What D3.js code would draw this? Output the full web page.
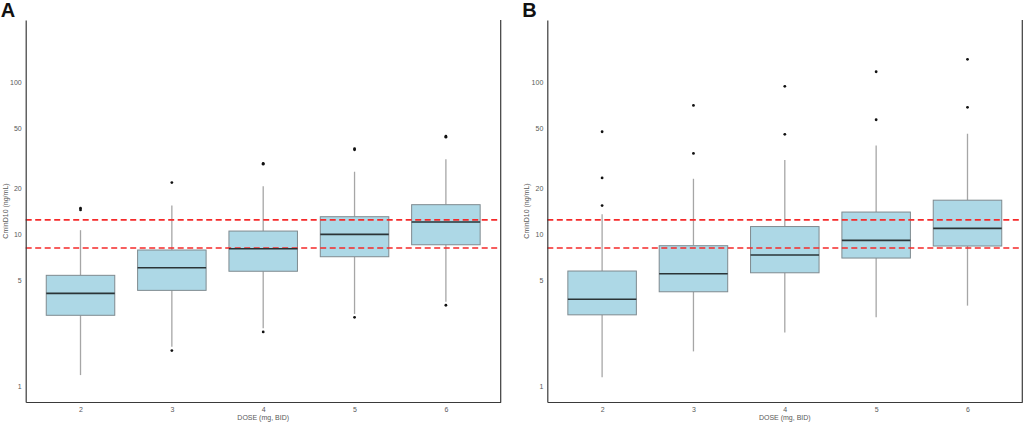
<!DOCTYPE html>
<html>
<head>
<meta charset="utf-8">
<script src="https://cdn.jsdelivr.net/npm/d3@7"></script>
<style>
  body { margin: 0; background: #fff; }
  svg { display: block; font-family: "Liberation Sans", Arial, sans-serif; }
</style>
</head>
<body>
<div id="chart"></div>
<script>
// categories and axis ticks
const doses = ["2", "3", "4", "5", "6"];
const yTicks = [1, 5, 10, 20, 50, 100];
const refLines = [8.1, 12.4];

// panel A box stats (ng/mL)
const aLower  = [1.18, 1.81, 2.40, 2.98, 3.59];
const aQ1     = [2.92, 4.26, 5.69, 7.09, 8.50];
const aMedian = [4.07, 6.00, 8.00, 9.95, 12.0];
const aQ3     = [5.35, 7.85, 10.46, 13.0, 15.6];
const aUpper  = [10.6, 15.4, 20.6, 25.7, 31.0];
const aOutliers = [[14.4, 14.8], [21.8, 1.71], [28.8, 29.2, 2.27], [35.8, 36.4, 2.83], [43.4, 44.0, 3.40]];

// panel B box stats (ng/mL)
const bLower  = [1.14, 1.69, 2.25, 2.83, 3.38];
const bQ1     = [2.94, 4.17, 5.56, 6.95, 8.34];
const bMedian = [3.72, 5.48, 7.28, 9.09, 10.9];
const bQ3     = [5.71, 8.38, 11.2, 13.95, 16.7];
const bUpper  = [13.5, 23.1, 30.7, 38.3, 45.7];
const bOutliers = [[15.4, 23.4, 47.1], [33.9, 70.2], [45.3, 93.7], [56.5, 116.9], [68.2, 141]];

const W = 1024, H = 423;
const svg = d3.select("#chart").append("svg")
  .attr("width", W)
  .attr("height", H);

const plotTop = 20, plotBottom = 402;
const plotW = 475;
const yMin = 0.785, yMax = 256;   // axis limits (log)

function drawPanel(left, letter, lower, q1, med, q3, upper, outliers) {
  const g = svg.append("g")
    .attr("transform", `translate(${left}, 0)`);

  const x = d3.scalePoint()
    .domain(doses)
    .range([0, plotW])
    .padding(0.6);
  const y = d3.scaleLog()
    .domain([yMin, yMax])
    .range([plotBottom, plotTop]);
  const bw = x.step() * 0.75;

  const rows = doses.map((d, i) => ({
    dose: d, lo: lower[i], q1: q1[i], med: med[i], q3: q3[i], hi: upper[i], out: outliers[i]
  }));

  // whiskers
  g.append("g").selectAll("line.whisk-up")
    .data(rows)
    .join("line")
    .attr("x1", d => x(d.dose)).attr("x2", d => x(d.dose))
    .attr("y1", d => y(d.q3)).attr("y2", d => y(d.hi))
    .attr("stroke", "#a6a6a6").attr("stroke-width", 1.3);
  g.append("g").selectAll("line.whisk-down")
    .data(rows)
    .join("line")
    .attr("x1", d => x(d.dose)).attr("x2", d => x(d.dose))
    .attr("y1", d => y(d.q1)).attr("y2", d => y(d.lo))
    .attr("stroke", "#a6a6a6").attr("stroke-width", 1.3);

  // boxes
  g.append("g").selectAll("rect")
    .data(rows)
    .join("rect")
    .attr("x", d => x(d.dose) - bw / 2)
    .attr("width", bw)
    .attr("y", d => y(d.q3))
    .attr("height", d => y(d.q1) - y(d.q3))
    .attr("fill", "#add8e6")
    .attr("stroke", "#7f8a8f")
    .attr("stroke-width", 1);

  // outliers
  g.append("g").selectAll("circle")
    .data(rows.flatMap(d => d.out.map(v => ({ dose: d.dose, v }))))
    .join("circle")
    .attr("cx", d => x(d.dose))
    .attr("cy", d => y(d.v))
    .attr("r", 1.4)
    .attr("fill", "#111");

  // reference lines
  g.append("g").selectAll("line")
    .data(refLines)
    .join("line")
    .attr("x1", 0).attr("x2", plotW)
    .attr("y1", d => y(d)).attr("y2", d => y(d))
    .attr("stroke", "#f52a2a")
    .attr("stroke-width", 1.6)
    .attr("stroke-dasharray", "6,3.5");

  // medians
  g.append("g").selectAll("line")
    .data(rows)
    .join("line")
    .attr("x1", d => x(d.dose) - bw / 2).attr("x2", d => x(d.dose) + bw / 2)
    .attr("y1", d => y(d.med)).attr("y2", d => y(d.med))
    .attr("stroke", "#2b3437").attr("stroke-width", 1.6);

  // axes
  const yAxis = d3.axisLeft(y)
    .tickValues(yTicks)
    .tickFormat(d3.format("d"))
    .tickSize(0)
    .tickPadding(4);
  const xAxis = d3.axisBottom(x)
    .tickSize(0)
    .tickPadding(5);

  const ya = g.append("g").call(yAxis);
  const xa = g.append("g").attr("transform", `translate(0, ${plotBottom})`).call(xAxis);
  [ya, xa].forEach(a => {
    a.select(".domain").attr("stroke", "#3a3a3a").attr("stroke-width", 1.2);
    a.selectAll("text").attr("fill", "#595959").style("font-size", "7px").style("font-family", "'Liberation Sans', Arial, sans-serif");
  });

  // right border
  g.append("line")
    .attr("x1", plotW).attr("x2", plotW)
    .attr("y1", plotTop).attr("y2", plotBottom)
    .attr("stroke", "#3a3a3a").attr("stroke-width", 1.2);

  // axis titles
  g.append("text")
    .attr("x", plotW / 2)
    .attr("y", 420)
    .attr("text-anchor", "middle")
    .attr("fill", "#595959")
    .style("font-size", "7px")
    .text("DOSE (mg, BID)");
  g.append("text")
    .attr("transform", `translate(-18, ${(plotTop + plotBottom) / 2}) rotate(-90)`)
    .attr("text-anchor", "middle")
    .attr("fill", "#595959")
    .style("font-size", "7px")
    .text("CminD10 (ng/mL)");

  // panel letter
  svg.append("text")
    .attr("x", left - 25)
    .attr("y", 17)
    .attr("font-weight", "bold")
    .style("font-size", "20px")
    .attr("fill", "#111")
    .text(letter);
}

drawPanel(25.7, "A", aLower, aQ1, aMedian, aQ3, aUpper, aOutliers);
drawPanel(547.3, "B", bLower, bQ1, bMedian, bQ3, bUpper, bOutliers);
</script>
</body>
</html>
